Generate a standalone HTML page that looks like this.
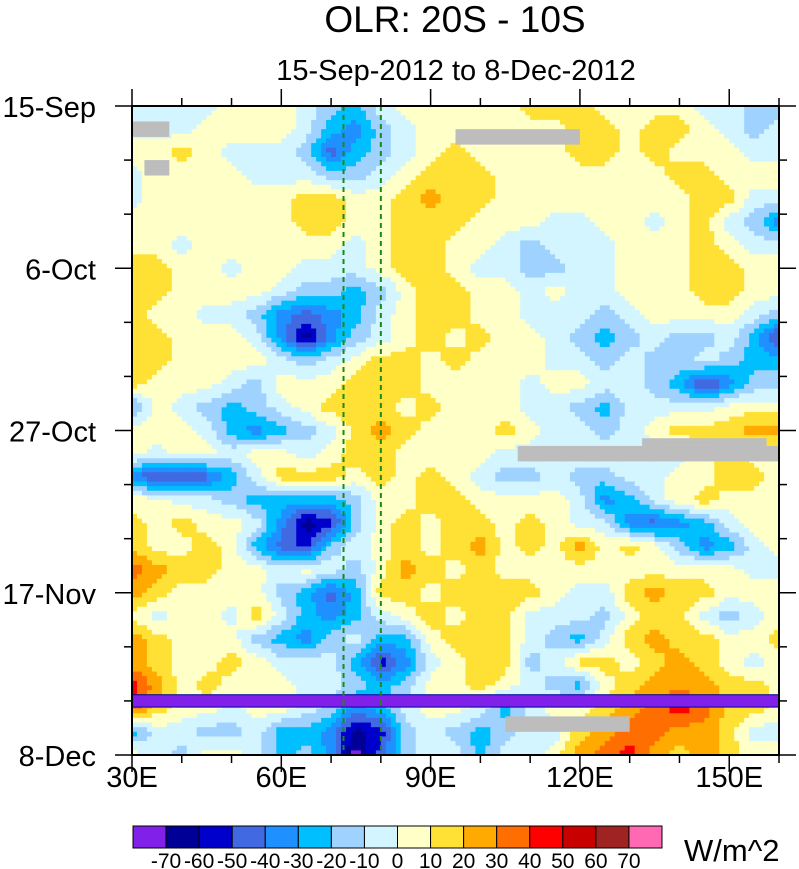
<!DOCTYPE html>
<html><head><meta charset="utf-8"><style>
body{margin:0;background:#fff;width:799px;height:869px;overflow:hidden}
svg{display:block;font-family:"Liberation Sans",sans-serif}
</style></head><body>
<svg id="chart" width="799" height="869" viewBox="0 0 799 869">
<text x="455" y="32" font-size="37" text-anchor="middle">OLR: 20S - 10S</text>
<text x="456" y="80" font-size="29" text-anchor="middle">15-Sep-2012 to 8-Dec-2012</text>
<g id="cells"></g>
<g id="overlay"></g>
<g id="axes"></g>
<g id="cbar"></g>
</svg>
<script>
const lons=[30,35,40,45,50,55,60,65,70,75,80,85,90,95,100,105,110,115,120,125,130,135,140,145,150,155,160];
const days=[0,3,6,9,12,15,18,21,24,27,30,33,36,39,42,45,48,51,54,57,60,63,66,69,72,75,78,81,84];
const olr=[
[-5,-5,-5,-5,5,5,5,-5,-15,-25,-5,5,5,5,5,5,15,15,15,5,5,5,5,-5,-5,-15,-15],
[-5,-5,-5,5,5,5,5,-5,-25,-35,-15,-5,5,5,5,5,5,5,15,15,5,15,15,5,-5,-15,-5],
[5,5,15,5,-5,-5,-5,-15,-45,-25,-15,-5,5,15,5,5,5,5,15,15,5,15,5,5,5,-5,-5],
[-5,5,5,5,5,-5,-5,-5,-15,-15,-5,5,15,15,15,5,5,5,5,5,5,5,15,15,5,5,5],
[-5,5,5,5,5,5,5,15,15,5,5,15,25,15,15,5,5,5,5,5,5,5,5,15,15,-5,-5],
[5,5,5,5,5,5,5,15,15,5,5,15,15,15,5,5,5,-5,-5,5,5,-5,5,15,-5,-15,-35],
[5,5,-5,5,5,5,5,5,5,-5,5,15,15,5,5,-5,-15,-5,-5,-5,5,5,5,15,5,-5,-5],
[15,15,5,5,-5,5,5,-5,-5,-5,5,15,15,5,-5,-5,-15,-15,-5,-5,5,5,5,15,15,5,5],
[15,15,5,5,5,5,-5,-15,-15,-25,-15,5,15,15,5,5,-5,5,-5,-5,5,5,5,15,15,5,5],
[15,5,5,-5,-5,-15,-35,-45,-35,-25,-5,5,15,15,5,5,-5,-5,-5,-15,-5,5,5,5,5,-5,-15],
[15,15,5,5,5,-5,-35,-65,-35,-15,-5,5,15,5,15,5,5,-5,-15,-25,-15,-5,-15,-15,-5,-25,-55],
[15,15,5,5,5,5,-5,-15,-5,5,15,15,5,15,5,5,5,-5,-5,-15,-5,-15,-15,-5,-15,-25,-25],
[15,5,5,5,-5,-15,5,5,5,15,15,15,5,5,5,5,-5,5,5,-5,-5,-15,-25,-55,-35,-15,-15],
[-25,5,-5,-15,-25,-15,-5,5,15,15,15,5,15,5,5,5,-5,-5,-15,-25,-5,-5,-5,-5,5,5,5],
[5,5,5,-5,-25,-35,-25,-15,-5,15,25,15,5,5,5,15,5,-5,-5,-15,-5,5,15,15,15,25,25],
[5,-5,5,5,-5,5,5,-5,5,15,15,5,5,5,5,-5,-5,-5,-5,-5,-5,-5,-5,5,15,5,5],
[-35,-55,-55,-45,-25,-5,15,15,15,5,15,5,15,5,-5,-15,-15,-5,-15,-15,-5,-5,5,5,15,15,5],
[5,5,-5,-5,-15,-25,-25,-25,-25,-15,5,5,15,15,5,5,5,5,-5,-35,-25,-5,5,15,5,5,5],
[15,5,15,5,5,-5,-35,-65,-55,-15,5,15,5,15,15,5,15,5,-5,-5,-35,-45,-35,-25,-5,5,5],
[15,5,5,15,5,-25,-45,-55,-15,-5,5,15,5,15,25,5,15,5,25,5,15,5,-15,-35,-25,-5,5],
[35,25,15,15,5,5,-5,5,-5,-15,5,25,15,5,15,5,5,5,5,5,5,5,5,5,5,-5,-5],
[25,15,5,5,5,5,-15,-25,-45,-25,15,15,5,15,15,15,15,5,-5,-5,15,25,15,15,5,5,5],
[5,-5,5,5,-5,15,-5,-25,-35,-25,-5,5,15,5,15,15,-5,-5,-5,-15,5,15,15,-5,-15,-5,5],
[25,15,5,5,5,-15,-25,-35,-15,-5,-25,-25,5,15,15,15,-5,-15,-25,-5,15,25,15,15,5,5,15],
[25,15,5,5,15,5,-5,-5,-5,-25,-55,-35,-5,5,15,15,-15,-5,15,15,5,15,25,15,5,-5,5],
[45,25,5,15,5,5,5,-5,-5,-15,-25,-15,5,5,15,5,-5,-15,-25,5,15,25,25,25,15,15,5],
[35,15,5,5,-5,5,5,-5,-15,-35,-25,-5,5,5,-5,-25,-5,5,5,15,25,35,45,35,15,15,5],
[-25,-5,-5,-15,-15,-5,-25,-25,-35,-65,-55,-15,-5,-15,-25,-15,-5,-5,15,25,35,35,25,25,15,-5,-5],
[5,-5,-15,5,5,-5,-25,-15,-35,-75,-45,-15,-5,-5,-25,-5,-5,5,25,35,45,25,15,25,15,5,5]
];
const levels=[-70,-60,-50,-40,-30,-20,-10,0,10,20,30,40,50,60,70];
const levelLabels=["-70","-60","-50","-40","-30","-20","-10","0","10","20","30","40","50","60","70"];
const colors=["#8020e8","#000096","#0000cd","#4169e1","#1e90ff","#00bfff","#a0d2ff","#d2f5ff","#ffffc8","#ffe135","#ffaa00","#ff6e00","#ff0000","#c80000","#a02323","#ff69b4"];
const xTicks=[30,60,90,120,150];
const xTickLabels=["30E","60E","90E","120E","150E"];
const yTicks=[0,21,42,63,84];
const yTickLabels=["15-Sep","6-Oct","27-Oct","17-Nov","8-Dec"];
const missingBoxes=[[30,37.5,2,4],[32.5,37.5,7,9],[95,120,3,5],[107.5,160,44,46],[132.5,157.5,43,44],[105,130,79,81]];
const badDay=[76.2,77.8];
const refLons=[72.5,80];

const NS="http://www.w3.org/2000/svg";
const X0=132,X1=779,Y0=106,Y1=755;
const x=l=>X0+(l-30)/130*(X1-X0);
const y=d=>Y0+d/84*(Y1-Y0);
const col=v=>{let i=0;while(i<levels.length&&v>=levels[i])i++;return colors[i];};
function mk(tag,attrs,parent){const e=document.createElementNS(NS,tag);for(const k in attrs)e.setAttribute(k,attrs[k]);parent.appendChild(e);return e;}

const cells=document.getElementById('cells');
const S=5;
for(let r=0;r<days.length-1;r++){for(let c=0;c<lons.length-1;c++){
 for(let i=0;i<S;i++)for(let j=0;j<S;j++){
  const fx=(j+0.5)/S,fy=(i+0.5)/S;
  const v=olr[r][c]*(1-fx)*(1-fy)+olr[r][c+1]*fx*(1-fy)+olr[r+1][c]*(1-fx)*fy+olr[r+1][c+1]*fx*fy;
  const lx0=lons[c]+(lons[c+1]-lons[c])*j/S, lx1=lons[c]+(lons[c+1]-lons[c])*(j+1)/S;
  const dy0=days[r]+(days[r+1]-days[r])*i/S, dy1=days[r]+(days[r+1]-days[r])*(i+1)/S;
  const e=mk('rect',{x:x(lx0).toFixed(2),y:y(dy0).toFixed(2),width:(x(lx1)-x(lx0)+0.4).toFixed(2),height:(y(dy1)-y(dy0)+0.4).toFixed(2),fill:col(v)},cells);
  
  
 }}}

const ov=document.getElementById('overlay');
missingBoxes.forEach(b=>{
 const e=mk('rect',{x:x(b[0]),y:y(b[2]),width:x(b[1])-x(b[0]),height:y(b[3])-y(b[2]),fill:"#bdbdbd"},ov);
 
 
});
const band=mk('rect',{x:X0,y:y(badDay[0]),width:X1-X0,height:y(badDay[1])-y(badDay[0]),fill:"#8020e8",stroke:"#0000a0","stroke-width":1},ov);


refLons.forEach(l=>{
 const e=mk('line',{x1:x(l),x2:x(l),y1:Y0,y2:Y1,stroke:"#1a8a1a","stroke-width":2,"stroke-dasharray":"5,4"},ov);
 
 
});

const ax=document.getElementById('axes');
mk('rect',{x:X0,y:Y0,width:X1-X0,height:Y1-Y0,fill:"none",stroke:"#000","stroke-width":2},ax);
for(let d=0;d<=84;d+=7){const L=(d%21==0)?17:8;
 mk('line',{x1:X0-L,x2:X0,y1:y(d),y2:y(d),stroke:"#000","stroke-width":1.5},ax);
 mk('line',{x1:X1,x2:X1+L,y1:y(d),y2:y(d),stroke:"#000","stroke-width":1.5},ax);}
for(let l=30;l<=160;l+=10){const L=((l-30)%30==0)?17:8;
 mk('line',{x1:x(l),x2:x(l),y1:Y1,y2:Y1+L,stroke:"#000","stroke-width":1.5},ax);
 mk('line',{x1:x(l),x2:x(l),y1:Y0-L,y2:Y0,stroke:"#000","stroke-width":1.5},ax);}
yTicks.forEach((d,i)=>{const t=mk('text',{x:96,y:y(d)+11,"font-size":29,"text-anchor":"end"},ax);t.textContent=yTickLabels[i];
 
 });
xTicks.forEach((l,i)=>{const t=mk('text',{x:x(l),y:787,"font-size":29,"text-anchor":"middle"},ax);t.textContent=xTickLabels[i];
 
 });

const cb=document.getElementById('cbar');
const BW=(662-133)/colors.length;
colors.forEach((c,i)=>{const e=mk('rect',{x:133+i*BW,y:826,width:BW,height:22,fill:c,stroke:"#000","stroke-width":1},cb);
 
 });
levels.forEach((v,i)=>{const t=mk('text',{x:133+(i+1)*BW,y:868,"font-size":21,"text-anchor":"middle"},cb);t.textContent=levelLabels[i];
 
 });
const u=mk('text',{x:684,y:861,"font-size":31},cb);u.textContent="W/m^2";


</script>
</body></html>
